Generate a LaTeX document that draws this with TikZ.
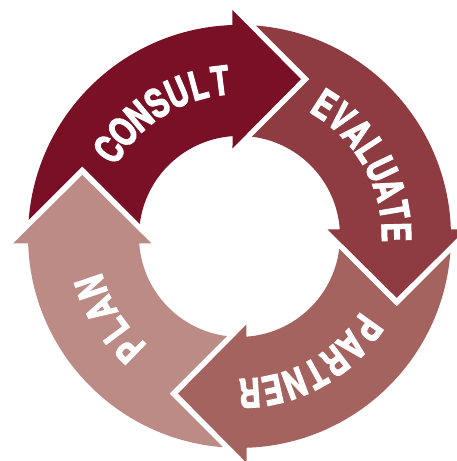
\documentclass[tikz,border=0pt]{standalone}
\usepackage{fontspec}
\newfontfamily\cyclefont{TeX Gyre Heros}[FakeStretch=0.74,BoldFeatures={FakeBold=2.5}]
\usepackage{xcolor}
\definecolor{consultred}{HTML}{7A1026}
\definecolor{evaluatered}{HTML}{8E3C42}
\definecolor{partnerred}{HTML}{A4635E}
\definecolor{planred}{HTML}{BC8B85}
\tikzset{letter/.style={text=white,inner sep=0pt,font=\cyclefont\bfseries\fontsize{40}{40}\selectfont}}

\begin{document}
\begin{tikzpicture}[x=1pt,y=1pt]
\useasboundingbox (-239.5,-224.6) rectangle (217.5,236.4);
% consult
\fill[consultred] (175.57:211.5) arc[start angle=175.57, end angle=91.90, radius=211.5] -- (-7,226.4) -- (61.5,157.2) -- (-7,88) -- (93.99:100.5) arc[start angle=93.99, end angle=172.84, radius=100.5] -- (-157.2,70) -- cycle;
% evaluate
\fill[evaluatered] (85.57:211.5) arc[start angle=85.57, end angle=1.90, radius=211.5] -- (226.4,7) -- (157.2,-61.5) -- (88,7) -- (3.99:100.5) arc[start angle=3.99, end angle=82.84, radius=100.5] -- (70,157.2) -- cycle;
% partner
\fill[partnerred] (-4.43:211.5) arc[start angle=-4.43, end angle=-88.10, radius=211.5] -- (7,-226.4) -- (-61.5,-157.2) -- (7,-88) -- (-86.01:100.5) arc[start angle=-86.01, end angle=-7.16, radius=100.5] -- (157.2,-70) -- cycle;
% plan
\fill[planred] (-94.43:211.5) arc[start angle=-94.43, end angle=-178.10, radius=211.5] -- (-226.4,-7) -- (-157.2,61.5) -- (-88,-7) -- (-176.01:100.5) arc[start angle=-176.01, end angle=-97.16, radius=100.5] -- (-70,-157.2) -- cycle;

\foreach \ch [count=\i from 0] in {C,O,N,S,U,L,T}
  \node[letter,rotate={56.3-8.2*\i}] (consult-\i) at ({146.3-8.2*\i}:157) {\ch};
\foreach \ch [count=\i from 0] in {E,V,A,L,U,A,T,E}
  \node[letter,rotate={-32.8-7.94*\i}] (evaluate-\i) at ({57.2-7.94*\i}:157) {\ch};
\foreach \ch [count=\i from 0] in {P,A,R,T,N,E,R}
  \node[letter,rotate={-125.6-8.43*\i}] (partner-\i) at ({-35.6-8.43*\i}:157) {\ch};
\foreach \ch [count=\i from 0] in {P,L,A,N}
  \node[letter,rotate={135.8-9*\i}] (plan-\i) at ({225.8-9*\i}:157) {\ch};
\end{tikzpicture}
\end{document}
